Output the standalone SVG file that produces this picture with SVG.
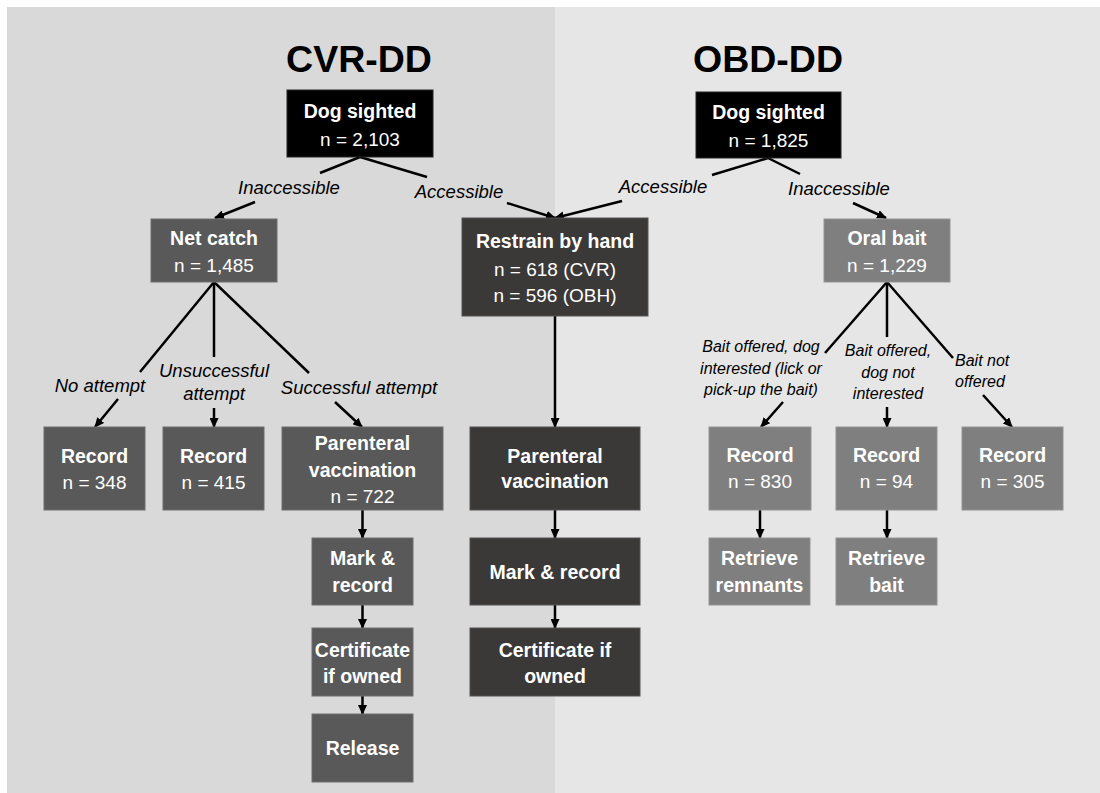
<svg xmlns="http://www.w3.org/2000/svg" width="1100" height="793" viewBox="0 0 1100 793">
  <style>
    .title { font-family: "Liberation Sans", Arial, sans-serif; font-weight: bold; font-size: 37.5px; fill: #000; text-anchor: middle; }
    .b { font-family: "Liberation Sans", Arial, sans-serif; font-weight: bold; font-size: 19.5px; fill: #fff; text-anchor: middle; }
    .r { font-family: "Liberation Sans", Arial, sans-serif; font-size: 19px; fill: #fff; text-anchor: middle; }
    .lab { font-family: "Liberation Sans", Arial, sans-serif; font-style: italic; font-size: 18.5px; fill: #000; text-anchor: middle; }
    .sm { font-family: "Liberation Sans", Arial, sans-serif; font-style: italic; font-size: 16px; fill: #000; text-anchor: middle; }
    .blk { fill: #000000; stroke: #262626; stroke-width: 1; }
    .mid { fill: #595959; stroke: #6e6e6e; stroke-width: 1; }
    .dark { fill: #3b3838; stroke: #555252; stroke-width: 1; }
    .light { fill: #7f7f7f; stroke: #939393; stroke-width: 1; }
    .ln { fill: none; stroke: #000; stroke-width: 2.5; }
    .ar { fill: none; stroke: #000; stroke-width: 2.5; marker-end: url(#head); }
  </style>
  <defs>
    <marker id="head" markerUnits="userSpaceOnUse" markerWidth="10" markerHeight="9" refX="9" refY="4.5" orient="auto">
      <path d="M0,0 L10,4.5 L0,9 Z" fill="#000"/>
    </marker>
  </defs>

  <!-- backdrop: two panels -->
  <rect x="0" y="0" width="1100" height="793" fill="#ffffff"/>
  <rect x="7" y="7" width="548" height="786" fill="#d9d9d9"/>
  <rect x="555" y="7" width="545" height="786" fill="#e6e6e6"/>

  <text class="title" x="359" y="72">CVR-DD</text>
  <text class="title" x="768" y="72">OBD-DD</text>

  <!-- connectors -->
  <g id="connectors">
    <line class="ln" x1="360" y1="157" x2="320" y2="173"/>
    <line class="ar" x1="255" y1="202" x2="215" y2="218"/>
    <line class="ln" x1="360" y1="157" x2="427" y2="177"/>
    <line class="ar" x1="507" y1="203" x2="555" y2="218"/>

    <line class="ln" x1="768" y1="158" x2="712" y2="175"/>
    <line class="ar" x1="622" y1="201" x2="555" y2="218"/>
    <line class="ln" x1="768" y1="158" x2="800" y2="174"/>
    <line class="ar" x1="853" y1="203" x2="886" y2="218"/>

    <line class="ln" x1="214" y1="282" x2="140" y2="372"/>
    <line class="ar" x1="118" y1="399" x2="95" y2="427"/>
    <line class="ln" x1="214" y1="282" x2="214" y2="357"/>
    <line class="ar" x1="214" y1="408" x2="214" y2="427"/>
    <line class="ln" x1="214" y1="282" x2="309" y2="373"/>
    <line class="ar" x1="335" y1="402" x2="362" y2="427"/>

    <line class="ar" x1="555" y1="316" x2="555" y2="427"/>

    <line class="ar" x1="362.5" y1="510" x2="362.5" y2="538"/>
    <line class="ar" x1="362.5" y1="605" x2="362.5" y2="628"/>
    <line class="ar" x1="362.5" y1="696" x2="362.5" y2="714"/>
    <line class="ar" x1="555" y1="510" x2="555" y2="538"/>
    <line class="ar" x1="555" y1="605" x2="555" y2="628"/>

    <line class="ln" x1="887" y1="282" x2="825" y2="353"/>
    <line class="ar" x1="783" y1="402" x2="761" y2="427"/>
    <line class="ln" x1="887" y1="282" x2="887" y2="337"/>
    <line class="ar" x1="887" y1="407" x2="887" y2="427"/>
    <line class="ln" x1="887" y1="282" x2="953" y2="358"/>
    <line class="ar" x1="983" y1="395" x2="1012" y2="427"/>

    <line class="ar" x1="760" y1="510" x2="760" y2="538"/>
    <line class="ar" x1="887" y1="510" x2="887" y2="538"/>
  </g>

  <!-- branch labels -->
  <g id="labels">
    <text class="lab" x="289" y="194">Inaccessible</text>
    <text class="lab" x="459" y="198">Accessible</text>
    <text class="lab" x="663" y="193">Accessible</text>
    <text class="lab" x="839" y="195">Inaccessible</text>
    <text class="lab" x="100" y="392">No attempt</text>
    <text class="lab" x="214" y="377">Unsuccessful</text>
    <text class="lab" x="214" y="400">attempt</text>
    <text class="lab" x="359" y="394">Successful attempt</text>
    <text class="sm" x="761" y="352">Bait offered, dog</text>
    <text class="sm" x="761" y="374">interested (lick or</text>
    <text class="sm" x="761" y="395">pick-up the bait)</text>
    <text class="sm" x="888" y="356">Bait offered,</text>
    <text class="sm" x="888" y="378">dog not</text>
    <text class="sm" x="888" y="399">interested</text>
    <text class="sm" x="955" y="366" style="text-anchor:start">Bait not</text>
    <text class="sm" x="955" y="387" style="text-anchor:start">offered</text>
  </g>

  <!-- CVR-DD nodes -->
  <g id="cvr-sighted">
    <rect class="blk" x="287" y="90" width="146" height="67"/>
    <text class="b" x="360" y="118">Dog sighted</text>
    <text class="r" x="360" y="146">n = 2,103</text>
  </g>
  <g id="net-catch">
    <rect class="mid" x="151" y="219" width="126" height="63"/>
    <text class="b" x="214" y="245">Net catch</text>
    <text class="r" x="214" y="272">n = 1,485</text>
  </g>
  <g id="record-348">
    <rect class="mid" x="44" y="427" width="101" height="83"/>
    <text class="b" x="94.5" y="463">Record</text>
    <text class="r" x="94.5" y="489">n = 348</text>
  </g>
  <g id="record-415">
    <rect class="mid" x="163" y="427" width="101" height="83"/>
    <text class="b" x="213.5" y="463">Record</text>
    <text class="r" x="213.5" y="489">n = 415</text>
  </g>
  <g id="cvr-parenteral">
    <rect class="mid" x="282" y="427" width="161" height="83"/>
    <text class="b" x="362.5" y="450">Parenteral</text>
    <text class="b" x="362.5" y="477">vaccination</text>
    <text class="r" x="362.5" y="503">n = 722</text>
  </g>
  <g id="cvr-mark">
    <rect class="mid" x="312" y="538" width="101" height="67"/>
    <text class="b" x="362.5" y="565">Mark &amp;</text>
    <text class="b" x="362.5" y="592">record</text>
  </g>
  <g id="cvr-certificate">
    <rect class="mid" x="312" y="628" width="101" height="68"/>
    <text class="b" x="362.5" y="657">Certificate</text>
    <text class="b" x="362.5" y="683">if owned</text>
  </g>
  <g id="release">
    <rect class="mid" x="312" y="714" width="101" height="68"/>
    <text class="b" x="362.5" y="755">Release</text>
  </g>

  <!-- shared hand-restraint branch -->
  <g id="restrain">
    <rect class="dark" x="462" y="218" width="186" height="98"/>
    <text class="b" x="555" y="248">Restrain by hand</text>
    <text class="r" x="555" y="276">n = 618 (CVR)</text>
    <text class="r" x="555" y="302">n = 596 (OBH)</text>
  </g>
  <g id="hand-parenteral">
    <rect class="dark" x="470" y="427" width="170" height="83"/>
    <text class="b" x="555" y="463">Parenteral</text>
    <text class="b" x="555" y="488">vaccination</text>
  </g>
  <g id="hand-mark">
    <rect class="dark" x="470" y="538" width="170" height="67"/>
    <text class="b" x="555" y="579">Mark &amp; record</text>
  </g>
  <g id="hand-certificate">
    <rect class="dark" x="470" y="628" width="170" height="68"/>
    <text class="b" x="555" y="657">Certificate if</text>
    <text class="b" x="555" y="683">owned</text>
  </g>

  <!-- OBD-DD nodes -->
  <g id="obd-sighted">
    <rect class="blk" x="696" y="92" width="145" height="66"/>
    <text class="b" x="768.5" y="119">Dog sighted</text>
    <text class="r" x="768.5" y="147">n = 1,825</text>
  </g>
  <g id="oral-bait">
    <rect class="light" x="824" y="219" width="126" height="63"/>
    <text class="b" x="887" y="245">Oral bait</text>
    <text class="r" x="887" y="272">n = 1,229</text>
  </g>
  <g id="record-830">
    <rect class="light" x="709" y="427" width="102" height="83"/>
    <text class="b" x="760" y="462">Record</text>
    <text class="r" x="760" y="488">n = 830</text>
  </g>
  <g id="record-94">
    <rect class="light" x="836" y="427" width="101" height="83"/>
    <text class="b" x="886.5" y="462">Record</text>
    <text class="r" x="886.5" y="488">n = 94</text>
  </g>
  <g id="record-305">
    <rect class="light" x="962" y="427" width="101" height="83"/>
    <text class="b" x="1012.5" y="462">Record</text>
    <text class="r" x="1012.5" y="488">n = 305</text>
  </g>
  <g id="retrieve-remnants">
    <rect class="light" x="709" y="538" width="101" height="67"/>
    <text class="b" x="759.5" y="565">Retrieve</text>
    <text class="b" x="759.5" y="592">remnants</text>
  </g>
  <g id="retrieve-bait">
    <rect class="light" x="836" y="538" width="101" height="67"/>
    <text class="b" x="886.5" y="565">Retrieve</text>
    <text class="b" x="886.5" y="592">bait</text>
  </g>
</svg>
